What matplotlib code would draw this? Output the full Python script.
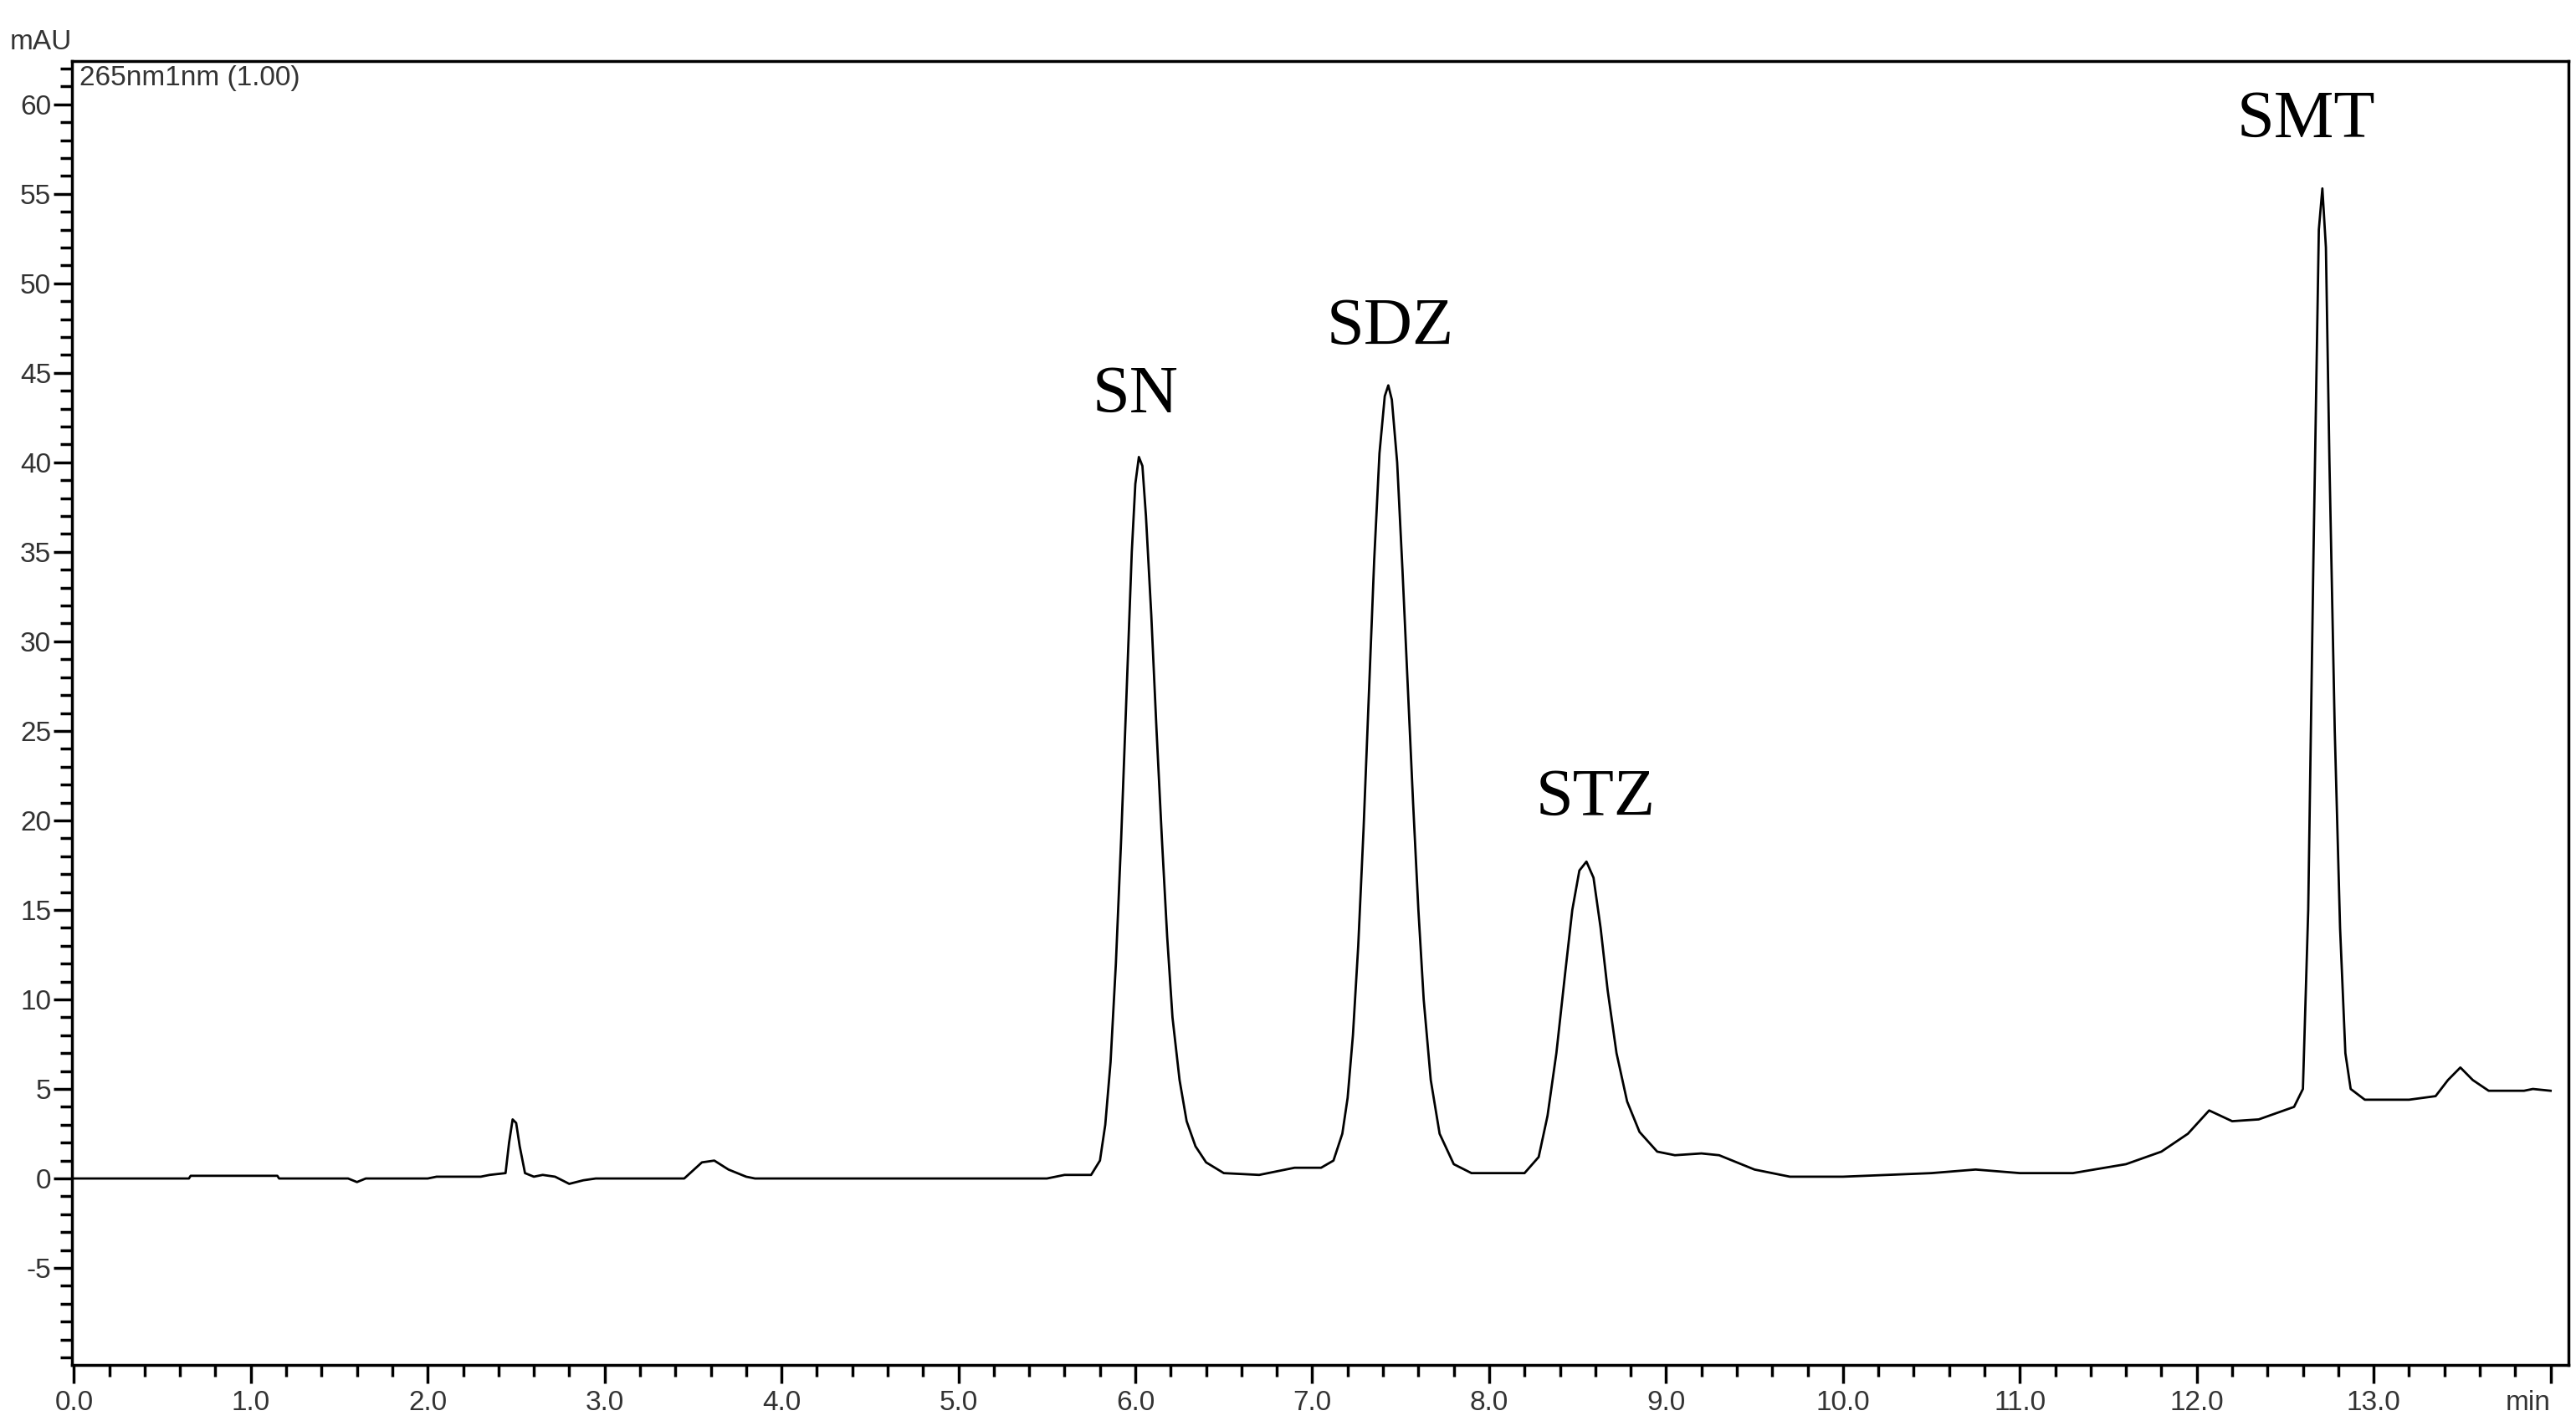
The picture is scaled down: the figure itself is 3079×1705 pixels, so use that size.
import numpy as np
import matplotlib.pyplot as plt
from matplotlib.ticker import MultipleLocator

# chromatogram trace (time in min, signal in mAU)
time_min = [0.0, 0.65, 0.66, 1.15, 1.16, 1.55, 1.6, 1.65, 2.0, 2.05, 2.3, 2.35, 2.44,
            2.46, 2.48, 2.50, 2.52, 2.55, 2.6, 2.65, 2.72, 2.8, 2.88, 2.95, 3.45,
            3.55, 3.62, 3.7, 3.8, 3.85, 5.5, 5.6, 5.75,
            5.8, 5.83, 5.86, 5.89, 5.92, 5.95, 5.98, 6.0, 6.02, 6.04, 6.06, 6.09,
            6.12, 6.15, 6.18, 6.21, 6.25, 6.29, 6.34, 6.4, 6.5, 6.7, 6.9, 7.05, 7.12,
            7.17, 7.2, 7.23, 7.26, 7.29, 7.32, 7.35, 7.38, 7.41, 7.43, 7.45, 7.48,
            7.51, 7.54, 7.57, 7.6, 7.63, 7.67, 7.72, 7.8, 7.9, 8.2, 8.28,
            8.33, 8.38, 8.43, 8.47, 8.51, 8.55, 8.59, 8.63, 8.67, 8.72, 8.78, 8.85, 8.95,
            9.05, 9.2, 9.3, 9.5, 9.7, 10.0, 10.5, 10.75, 11.0, 11.3, 11.6, 11.8,
            11.95, 12.07, 12.2, 12.35, 12.55,
            12.6, 12.63, 12.66, 12.69, 12.71, 12.73, 12.75, 12.78, 12.81, 12.84,
            12.87, 12.95, 13.2, 13.35, 13.42, 13.49, 13.56, 13.65, 13.85, 13.9, 14.0]
signal_mau = [0.0, 0.0, 0.15, 0.15, 0.0, 0.0, -0.2, 0.0, 0.0, 0.1, 0.1, 0.2, 0.3,
              2.0, 3.3, 3.1, 1.8, 0.3, 0.1, 0.2, 0.1, -0.3, -0.1, 0.0, 0.0,
              0.9, 1.0, 0.5, 0.1, 0.0, 0.0, 0.2, 0.2,
              1.0, 3.0, 6.5, 12.0, 19.0, 27.0, 35.0, 38.8, 40.3, 39.8, 37.0, 31.5,
              25.0, 19.0, 13.5, 9.0, 5.5, 3.2, 1.8, 0.9, 0.3, 0.2, 0.6, 0.6, 1.0,
              2.5, 4.5, 8.0, 13.0, 19.5, 27.0, 34.5, 40.5, 43.7, 44.3, 43.5, 40.0,
              34.0, 27.5, 21.0, 15.0, 10.0, 5.5, 2.5, 0.8, 0.3, 0.3, 1.2,
              3.5, 7.0, 11.5, 15.0, 17.2, 17.7, 16.8, 14.0, 10.5, 7.0, 4.3, 2.6, 1.5,
              1.3, 1.4, 1.3, 0.5, 0.1, 0.1, 0.3, 0.5, 0.3, 0.3, 0.8, 1.5,
              2.5, 3.8, 3.2, 3.3, 4.0,
              5.0, 15.0, 35.0, 53.0, 55.3, 52.0, 40.0, 25.0, 14.0, 7.0,
              5.0, 4.4, 4.4, 4.6, 5.5, 6.2, 5.5, 4.9, 4.9, 5.0, 4.9]

peak_names = ['SN', 'SDZ', 'STZ', 'SMT']
peak_label_x = [6.0, 7.44, 8.6, 12.62]
peak_label_y = [43.7, 47.5, 21.2, 59.1]

fig = plt.figure(figsize=(30.79, 17.05), dpi=100)
ax = fig.add_axes([0.028, 0.043, 0.969, 0.914])
ax.plot(time_min, signal_mau, color='black', linewidth=2.0)

ax.set_xlim(-0.01, 14.1)
ax.set_ylim(-10.4, 62.4)
ax.xaxis.set_minor_locator(MultipleLocator(0.2))
ax.yaxis.set_minor_locator(MultipleLocator(1))

xt = np.arange(0, 15)
ax.set_xticks(xt)
ax.set_xticklabels([f'{v:.1f}' for v in xt[:-1]] + ['min'])
ax.get_xticklabels()[-1].set_horizontalalignment('right')
yt = np.arange(-5, 61, 5)
ax.set_yticks(yt)
ax.set_yticklabels([str(v) for v in yt])

ax.tick_params(which='major', direction='out', length=16, width=2.5,
               labelsize=24, labelcolor='#333333', pad=6)
ax.tick_params(which='minor', direction='out', length=10, width=2.5)
ax.tick_params(axis='y', pad=2)
for lbl in ax.get_xticklabels() + ax.get_yticklabels():
    lbl.set_family('Liberation Sans')
ax.get_xticklabels()[-1].set_horizontalalignment('right')
for s in ax.spines.values():
    s.set_linewidth(2.5)

ax.text(0.0, 1.005, 'mAU', transform=ax.transAxes, ha='right', va='bottom',
        fontsize=24, color='#333333', family='Liberation Sans')
ax.text(0.003, 0.997, '265nm1nm (1.00)', transform=ax.transAxes, ha='left', va='top',
        fontsize=24, color='#333333', family='Liberation Sans')

for name, x, y in zip(peak_names, peak_label_x, peak_label_y):
    ax.text(x, y, name, ha='center', va='center', fontsize=58, family='Liberation Serif')

fig.savefig('out.png')
